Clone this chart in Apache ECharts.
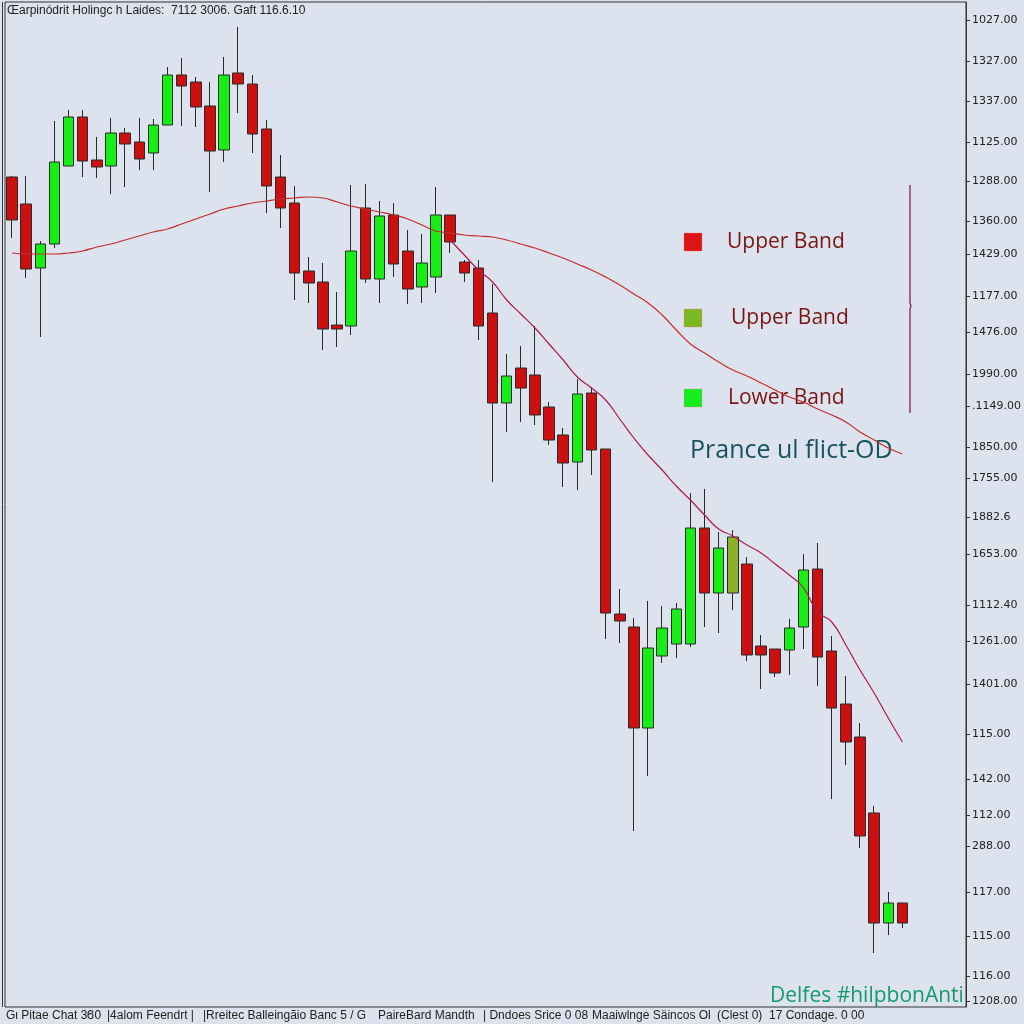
<!DOCTYPE html>
<html>
<head>
<meta charset="utf-8">
<script src="https://cdn.jsdelivr.net/npm/echarts@6/dist/echarts.min.js"></script>
<style>
html,body{margin:0;padding:0;background:#dce3ee;}
#c{width:1024px;height:1024px;}
</style>
</head>
<body>
<div id="c"></div>
<script>
// ---- data (in the chart's own vertical units) ----
const opens  = [830,803,739,763,841,890,847,841,874,865,854,882,932,925,901,857,934,923,878,830,804,736,725,682,681,799,728,792,756,720,730,792,745,739,694,604,639,632,600,572,545,614,558,393,380,279,351,363,363,479,414,414,443,361,358,357,380,438,356,303,270,194,84,104];
const closes = [787,738,763,845,890,846,840,874,863,848,882,932,921,900,856,932,923,873,821,799,734,724,678,678,756,728,791,743,718,744,792,765,734,681,604,631,619,592,567,544,613,557,394,386,279,359,379,398,479,414,459,470,352,352,334,379,437,350,299,265,171,84,104,84];
const lows   = [769,729,670,759,841,830,829,813,820,837,837,882,881,880,815,845,894,854,794,779,707,704,657,660,672,724,704,730,703,704,714,754,725,667,525,575,585,582,562,520,517,532,368,364,176,231,344,349,360,380,374,397,346,318,330,332,358,321,208,242,159,54,72,79];
const highs  = [831,831,766,886,897,897,870,889,879,889,888,940,949,930,925,950,980,932,887,852,821,750,744,715,822,823,806,804,777,773,820,792,747,747,723,653,661,681,605,579,628,620,558,418,389,406,401,404,514,518,475,477,450,372,358,388,453,464,371,331,284,201,115,104];
const upperLine = [754,753,753,753,754,756,760,763,767,771,775,778,783,788,793,798,801,804,806,808,809,810,809,805,801,798,795,792,788,782,776,774,772,771,770,767,763,759,754,749,743,737,730,722,713,704,692,677,663,654,645,637,631,624,617,610,605,598,592,585,575,567,559,553];
const lowerLineTail = [767,752,737,725,707,693,679,663,647,630,619,607,588,569,552,537,521,507,492,478,471,462,454,443,432,419,395,385,362,337,314,289,265];
const lowerStart = 31;
const tickValues = [987,946,906,865,826,786,753,711,675,633,601,560,529,490,453,402,366,323,273,228,192,161,115,71,31,6];
const tickLabels = ["1027.00","1327.00","1337.00","1125.00","1288.00","1360.00","1429.00","1177.00","1476.00","1990.00",".1149.00","1850.00","1755.00","1882.6","1653.00","1112.40","1261.00","1401.00","115.00","142.00","112.00","288.00","117.00","115.00","116.00","1208.00"];
const legendNames = ["Upper Band","Upper Band","Lower Band"];
const totalSlots = 68;
const oliveIndex = 51;

// ---- build ----
const cats = [];
for (let i = 0; i < totalSlots; i++) cats.push(String(i + 1));
const candleData = opens.map((o, i) => {
  const item = { value: [o, closes[i], lows[i], highs[i]] };
  if (i === oliveIndex) item.itemStyle = { color: '#8cb02a' };
  return item;
});
const lowerLine = [];
for (let i = 0; i < lowerStart; i++) lowerLine.push(null);
lowerLineTail.forEach(v => lowerLine.push(v));

const chart = echarts.init(document.getElementById('c'), null, { renderer: 'canvas' });
const legendColors = ['#dd1414', '#7cb823', '#14ee1e'];
const legendY = [242, 318, 398];
const legendTextX = [727, 731, 728];
const graphics = [];
legendNames.forEach((n, k) => {
  graphics.push({ type: 'rect', shape: { x: 684, y: legendY[k] - 9, width: 18, height: 18 },
    style: { fill: legendColors[k], stroke: 'rgba(255,120,120,0.35)', lineWidth: 1 } });
  graphics.push({ type: 'text', x: legendTextX[k], y: legendY[k], style: { text: n, fill: '#7a1414',
    font: '21px "Open Sans"', textVerticalAlign: 'middle' } });
});
graphics.push({ type: 'text', x: 690, y: 451, style: { text: 'Prance ul flict-OD', fill: '#17525e',
  font: '500 25px "Open Sans"', textVerticalAlign: 'middle' } });
graphics.push({ type: 'polyline', shape: { points: [[910,185],[910,303],[911,306],[910,309],[910,413]] },
  style: { stroke: '#7a1444', lineWidth: 1.2, fill: null } });
graphics.push({ type: 'text', x: 770, y: 996, style: { text: 'Delfes #hilpbonAnti', fill: '#169a6c',
  font: '21px "Open Sans"', textVerticalAlign: 'middle' } });
graphics.push({ type: 'text', x: 7, y: 11, style: { text: 'Œarpinódrit Holingc h Laides:  7112 3006. Gaft 116.6.10',
  fill: '#222', font: '12px "Liberation Sans"', textVerticalAlign: 'middle' } });
graphics.push({ type: 'line', shape: { x1: 2.5, y1: 2, x2: 2.5, y2: 1007 }, style: { stroke: '#333', lineWidth: 1 } });
const footer = [
  [6, 'Gι Pitae Chat 3Ꮾ0'], [107, '|4alom Feendrt |'], [203, '|Rreitec Balleingãio Banc 5 / G'],
  [378, 'PaireBard Mandth'], [483, '| Dndoes Srice 0 08'], [592, 'Maaiwlnge Säincos Ol'],
  [717, '(Clest 0)  17 Condage. 0 00']
];
footer.forEach(f => graphics.push({ type: 'text', x: f[0], y: 1016, style: { text: f[1], fill: '#222',
  font: '12px "Liberation Sans"', textVerticalAlign: 'middle' } }));

chart.setOption({
  backgroundColor: '#dce3ee',
  animation: false,
  grid: { left: 5, right: 58, top: 2, bottom: 17, show: true, borderColor: '#333', borderWidth: 1, backgroundColor: 'transparent' },
  xAxis: { type: 'category', data: cats, boundaryGap: true, show: false },
  yAxis: {
    type: 'value', position: 'right', min: 0, max: 1005,
    axisLine: { show: true, lineStyle: { color: '#333' } },
    splitLine: { show: false },
    axisTick: { show: true, inside: false, length: 4, lineStyle: { color: '#333' }, customValues: tickValues },
    axisLabel: { show: true, margin: 6, color: '#222', fontSize: 11, fontFamily: 'DejaVu Sans',
      customValues: tickValues,
      formatter: v => { const k = tickValues.indexOf(Math.round(v)); return k >= 0 ? tickLabels[k] : ''; } }
  },
  series: [
    { type: 'candlestick', data: candleData, barWidth: 11,
      itemStyle: { color: '#16ee16', color0: '#cc1010', borderColor: '#2a2a2a', borderColor0: '#2a2a2a', borderWidth: 1 } },
    { type: 'line', data: upperLine, smooth: true, symbol: 'none', lineStyle: { color: '#c42c2c', width: 1.2 }, z: 3 },
    { type: 'line', data: lowerLine, smooth: true, symbol: 'none', lineStyle: { color: '#b0174c', width: 1.2 }, z: 3 }
  ],
  graphic: graphics
});
</script>
</body>
</html>
